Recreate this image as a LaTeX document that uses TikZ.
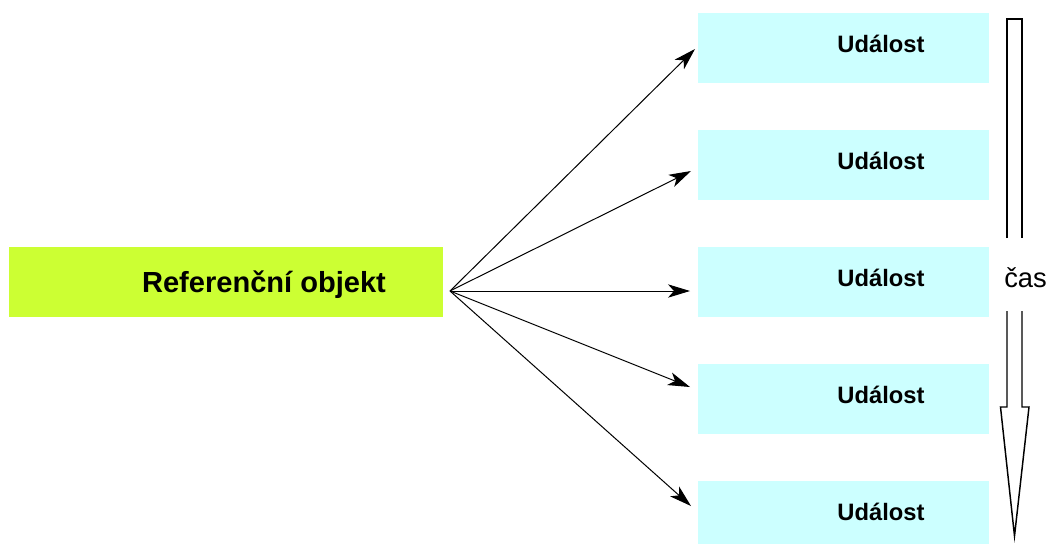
\documentclass[tikz,border=0pt]{standalone}
\usepackage{fontspec}
\setmainfont{Liberation Sans}
\usetikzlibrary{arrows.meta}
\definecolor{refgreen}{HTML}{CCFF33}
\definecolor{evcyan}{HTML}{CCFFFF}
\begin{document}
\begin{tikzpicture}[x=0.75pt,y=-0.75pt,
  evbox/.style={fill=evcyan, draw=none, minimum width=218.25pt, minimum height=52.5pt, inner sep=0pt, anchor=north west},
  evtext/.style={font=\bfseries\fontsize{17.8}{20}\selectfont, inner sep=0pt, anchor=base},
  conn/.style={line width=0.75pt, -{Stealth[length=16.5pt,width=10pt,inset=4.5pt]}},
  timeline/.style={line width=1.1pt, line join=miter}
]
\useasboundingbox (0,0) rectangle (1050,544);
% reference object
\node[fill=refgreen, minimum width=325.5pt, minimum height=52.5pt, inner sep=0pt, anchor=north west] (ref) at (9,247) {};
\node[font=\bfseries\fontsize{21.8}{24}\selectfont, inner sep=0pt, anchor=base] (reftext) at (264,292) {Referenční objekt};
\coordinate (src) at (450,291);
% events
\node[evbox] (e1) at (698,13) {};
\node[evbox] (e2) at (698,130) {};
\node[evbox] (e3) at (698,247) {};
\node[evbox] (e4) at (698,364) {};
\node[evbox, minimum height=47.25pt] (e5) at (698,481) {};
\node[evtext] (t1) at (881,52) {Událost};
\node[evtext] (t2) at (881,169) {Událost};
\node[evtext] (t3) at (881,286) {Událost};
\node[evtext] (t4) at (881,403) {Událost};
\node[evtext] (t5) at (881,520) {Událost};
% arrow tips
\coordinate (p1) at (695,49);
\coordinate (p2) at (691,171);
\coordinate (p3) at (690,291);
\coordinate (p4) at (690,387);
\coordinate (p5) at (691,506);
\draw[conn] (src) -- (p1);
\draw[conn] (src) -- (p2);
\draw[conn] (src) -- (p3);
\draw[conn] (src) -- (p4);
\draw[conn] (src) -- (p5);
% time arrow
\draw[timeline] (1007,238) -- (1007,19) -- (1022,19) -- (1022,238);
\draw[timeline] (1022,311) -- (1022,407) -- (1029,407) -- (1014.5,536) -- (1000.5,407) -- (1007,407) -- (1007,311);
\node[font=\fontsize{20.5}{23}\selectfont, inner sep=0pt, anchor=base west] (cas) at (1004,287) {čas};
\end{tikzpicture}
\end{document}
